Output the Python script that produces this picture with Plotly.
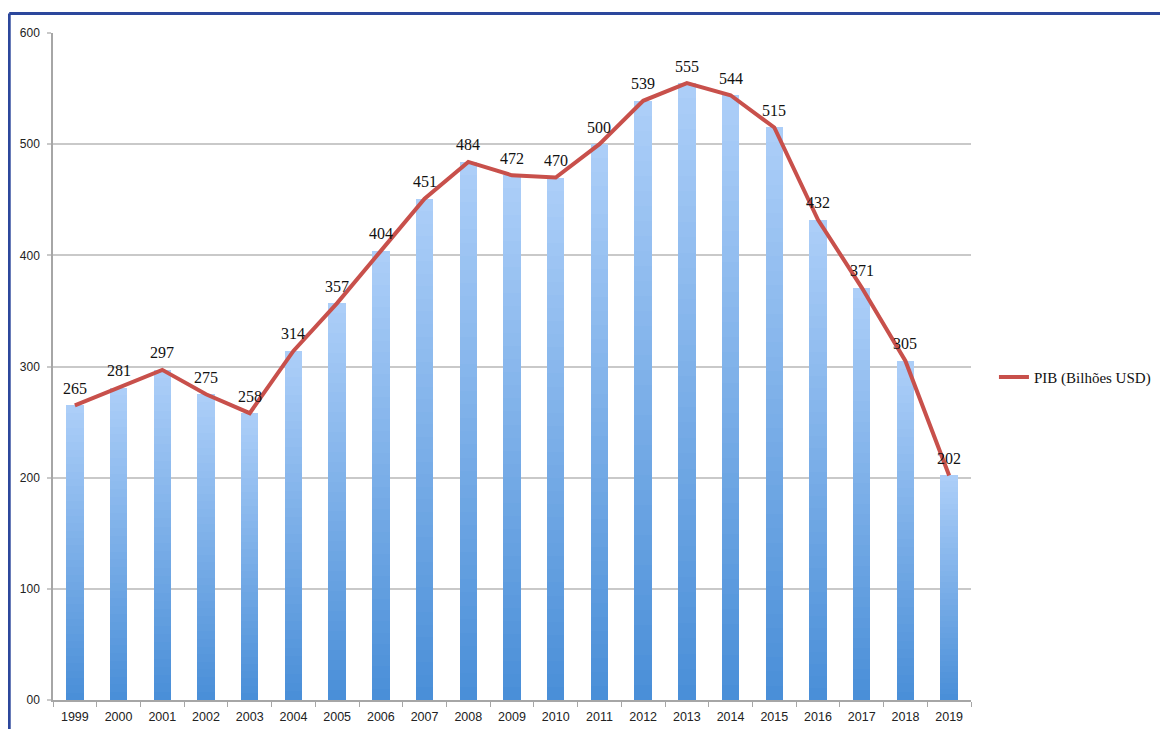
import plotly.graph_objects as go

years = [str(y) for y in range(1999, 2020)]
pib = [265, 281, 297, 275, 258, 314, 357, 404, 451, 484, 472, 470, 500, 539, 555, 544, 515, 432, 371, 305, 202]
y_ticks = [0, 100, 200, 300, 400, 500, 600]
y_tick_labels = ["00", "100", "200", "300", "400", "500", "600"]
series_name = "PIB (Bilhões USD)"

bottom_rgb = (74, 143, 216)
top_rgb = (172, 206, 248)
N = 40

fig = go.Figure()
for k in range(N):
    t = k / (N - 1)
    c = tuple(round(b + (tp - b) * t) for b, tp in zip(bottom_rgb, top_rgb))
    fig.add_trace(go.Bar(
        x=years, y=[v / N for v in pib],
        marker=dict(color=f"rgb{c}", line=dict(width=0)),
        showlegend=False, hoverinfo="skip",
    ))

fig.add_trace(go.Scatter(
    x=years, y=pib, mode="lines", name=series_name,
    line=dict(color="#c8504b", width=4),
    cliponaxis=False,
))

for i, v in enumerate(pib):
    fig.add_annotation(x=i, y=v, text=str(v), showarrow=False,
                       yshift=17, yanchor="middle",
                       font=dict(family="Liberation Serif", size=16, color="#111"))

fig.update_layout(
    width=1160, height=721,
    margin=dict(l=45, r=193, t=25, b=29),
    paper_bgcolor="white", plot_bgcolor="white",
    barmode="stack", bargap=0.6,
    showlegend=True,
    legend=dict(x=1.025, y=0.484, xanchor="left", yanchor="middle",
                font=dict(family="Liberation Serif", size=15, color="#111"),
                bgcolor="rgba(0,0,0,0)"),
    xaxis=dict(type="category", categoryorder="array", categoryarray=years,
               automargin=False,
               showline=True, linecolor="#a6a6a6", linewidth=1.5,
               ticks="outside", tickson="boundaries", ticklen=5, tickcolor="#a6a6a6",
               ticklabelstandoff=4,
               tickfont=dict(family="Liberation Sans", size=12.5, color="#222"),
               showgrid=False),
    yaxis=dict(range=[0, 600], tickvals=y_ticks, ticktext=y_tick_labels,
               automargin=False,
               showline=True, linecolor="#a6a6a6", linewidth=1.5,
               showgrid=True, gridcolor="#c9c9c9", gridwidth=2,
               ticks="outside", ticklen=4, tickcolor="#c9c9c9", tickwidth=2,
               ticklabelstandoff=5,
               tickfont=dict(family="Liberation Sans", size=12, color="#222"),
               zeroline=False),
    shapes=[
        dict(type="line", xref="paper", yref="paper", x0=-0.0477, x1=1.3, y0=1.0292, y1=1.0292,
             line=dict(color="#2c479c", width=3)),
        dict(type="line", xref="paper", yref="paper", x0=-0.0477, x1=-0.0477, y0=-0.1, y1=1.0292,
             line=dict(color="#2c479c", width=3)),
    ],
)

fig.write_html("out.html")
